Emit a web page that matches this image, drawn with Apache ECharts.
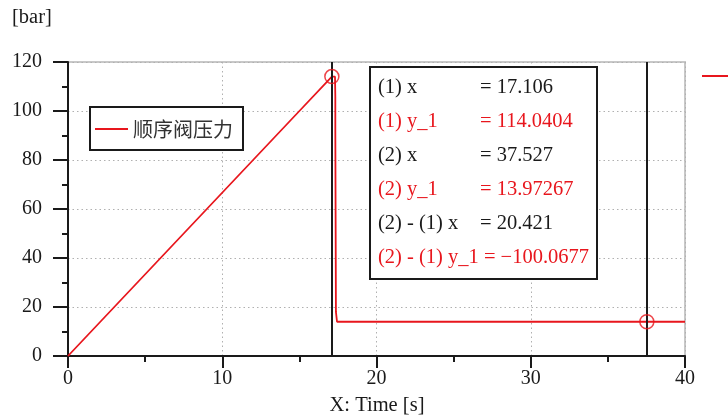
<!DOCTYPE html>
<html><head><meta charset="utf-8">
<script src="https://cdn.jsdelivr.net/npm/echarts@6/dist/echarts.min.js"></script>
<style>html,body{margin:0;padding:0;background:#fff}#c{width:728px;height:417px}</style>
</head><body><div id="c"></div>
<script>
// ---- data ----
var seriesName = '顺序阀压力';
var timeValues =     [0, 3, 6, 9, 12, 15, 17.106, 17.31, 17.33, 17.33, 17.37, 17.37, 17.44, 17.44, 40];
var pressureValues = [0, 20, 40, 60, 80, 100, 114.04, 114.0, 106, 92, 92, 18, 18, 13.97267, 13.97267];
var cursorX = [17.106, 37.527];
var cursorY = [114.0404, 13.97267];
var xTicks = [0, 10, 20, 30, 40];
var yTicks = [0, 20, 40, 60, 80, 100, 120];
var cursorLabels = ['(1) x', '(1) y_1', '(2) x', '(2) y_1', '(2) - (1) x', '(2) - (1) y_1 = \u2212100.0677'];
var cursorValues = ['= 17.106', '= 114.0404', '= 37.527', '= 13.97267', '= 20.421', ''];
var cursorRed = [false, true, false, true, false, true];

var RED = '#e8161d', INK = '#1a1a1a', SERIF = "'Liberation Serif', 'DejaVu Serif', serif";

var lineData = timeValues.map(function (t, i) { return [t, pressureValues[i]]; });
var circleData = cursorX.map(function (t, i) { return [t, cursorY[i]]; });

var boxChildren = [{
  type: 'rect', z: 100, shape: { x: 0, y: 0, width: 227, height: 212 },
  style: { fill: '#fff', stroke: INK, lineWidth: 2 }
}];
cursorLabels.forEach(function (s, i) {
  boxChildren.push({ type: 'text', z: 101, x: 8, y: 21 + 34 * i,
    style: { text: s, fill: cursorRed[i] ? RED : INK, font: '20.5px ' + SERIF, textVerticalAlign: 'middle' } });
  if (cursorValues[i]) boxChildren.push({ type: 'text', z: 101, x: 110, y: 21 + 34 * i,
    style: { text: cursorValues[i], fill: cursorRed[i] ? RED : INK, font: '20.5px ' + SERIF, textVerticalAlign: 'middle' } });
});

var chart = echarts.init(document.getElementById('c'), null, { renderer: 'canvas' });
chart.setOption({
  animation: false,
  backgroundColor: '#fff',
  grid: { left: 68, right: 43, top: 62, bottom: 61, show: true, borderColor: '#c8c8c8', borderWidth: 2, backgroundColor: 'transparent' },
  xAxis: {
    type: 'value', min: xTicks[0], max: xTicks[xTicks.length - 1], interval: 10,
    axisLine: { show: true, onZero: false, lineStyle: { color: INK, width: 2 } },
    axisTick: { show: true, inside: false, length: 12, lineStyle: { color: INK, width: 2 } },
    minorTick: { show: true, splitNumber: 2, length: 6, lineStyle: { color: INK, width: 2 } },
    axisLabel: { color: INK, fontSize: 20, fontFamily: SERIF, margin: 13 },
    splitLine: { show: true, lineStyle: { color: '#b0b0b0', type: [1.5, 3], width: 1 } }
  },
  yAxis: {
    type: 'value', min: yTicks[0], max: yTicks[yTicks.length - 1], interval: 20,
    axisLine: { show: true, onZero: false, lineStyle: { color: INK, width: 2 } },
    axisTick: { show: true, inside: false, length: 15, lineStyle: { color: INK, width: 2 } },
    minorTick: { show: true, splitNumber: 2, length: 6, lineStyle: { color: INK, width: 2 } },
    axisLabel: { color: INK, fontSize: 20, fontFamily: SERIF, margin: 26 },
    splitLine: { show: true, lineStyle: { color: '#b0b0b0', type: [1.5, 3], width: 1 } }
  },
  legend: {
    left: 90, top: 107, orient: 'horizontal',
    backgroundColor: '#fff', borderColor: INK, borderWidth: 2,
    padding: [12, 10, 11, 5],
    itemWidth: 33, itemHeight: 2, icon: 'rect',
    textStyle: { fontSize: 20, fontFamily: "'Noto Sans CJK SC'", color: '#333' },
    data: [{ name: seriesName, itemStyle: { color: RED } }]
  },
  series: [{
    name: seriesName, type: 'line', data: lineData, showSymbol: false, symbol: 'none',
    lineStyle: { color: RED, width: 1.8 }, itemStyle: { color: RED },
    markLine: {
      silent: true, symbol: ['none', 'none'], label: { show: false },
      lineStyle: { color: INK, width: 2, type: 'solid' },
      data: cursorX.map(function (v) { return { xAxis: v }; })
    }
  }, {
    type: 'scatter', data: circleData, symbol: 'circle', symbolSize: 14, z: 5,
    itemStyle: { color: 'rgba(0,0,0,0)', borderColor: RED, borderWidth: 1.5 }
  }],
  graphic: [
    { type: 'text', left: 12, top: 7, style: { text: '[bar]', fill: INK, font: '20.5px ' + SERIF } },
    { type: 'text', x: 377, y: 406, style: { text: 'X: Time [s]', fill: INK, font: '20.5px ' + SERIF, textAlign: 'center', textVerticalAlign: 'middle' } },
    { type: 'line', shape: { x1: 702, y1: 76, x2: 728, y2: 76 }, style: { stroke: RED, lineWidth: 2 } },
    { type: 'group', x: 370, y: 67, z: 100, children: boxChildren }
  ]
});
</script></body></html>
